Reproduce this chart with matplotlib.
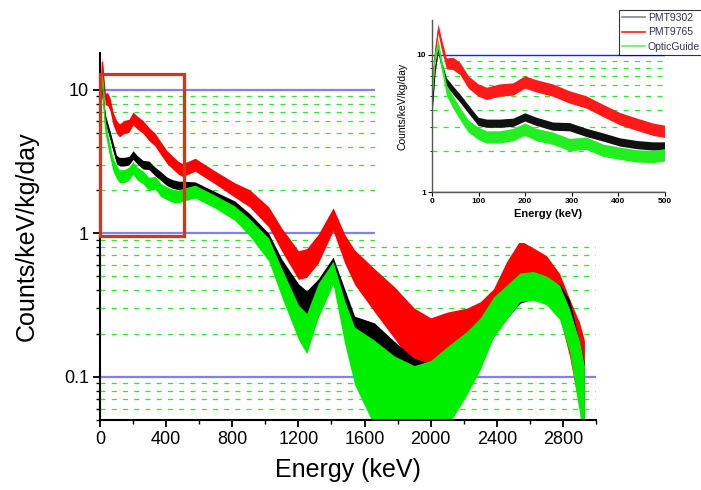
'''
Imports:
'''
import numpy as np
import matplotlib
matplotlib.use('Agg')
import matplotlib.pyplot as plt
from matplotlib.patches import Rectangle
from matplotlib.ticker import LogLocator, MultipleLocator, NullFormatter, FixedLocator

plt.rcParams['font.family'] = ['Liberation Sans', 'DejaVu Sans']

'''
Data (read from the picture):
'''
energy = [0, 7, 14, 21, 32, 46, 61, 79, 100, 118, 146, 175, 200, 225, 260,
          296, 332, 368, 404, 440, 475, 500, 575, 695, 815, 905, 1020, 1100,
          1200, 1250, 1320, 1410, 1480, 1540, 1660, 1780, 1900, 2000, 2100,
          2220, 2300, 2380, 2460, 2540, 2620, 2700, 2780, 2840, 2900, 2930]

pmt9765 = [5.5, 10.2, 15.5, 12.0, 8.6, 8.6, 7.9, 6.3, 5.5, 5.2,
           5.5, 5.6, 6.3, 5.9, 5.5, 4.9, 4.5, 3.9, 3.4, 3.1,
           2.85, 2.75, 3.0, 2.45, 2.0, 1.75, 1.3, 0.9, 0.6, 0.62,
           0.78, 1.25, 0.78, 0.58, 0.4, 0.28, 0.19, 0.155, 0.17, 0.19,
           0.22, 0.29, 0.45, 0.66, 0.6, 0.53, 0.37, 0.22, 0.12, 0.08]

pmt9302 = [3.6, 7.7, 11.0, 8.5, 6.3, 5.5, 4.8, 4.0, 3.25, 3.15,
           3.15, 3.2, 3.5, 3.25, 3.0, 2.97, 2.7, 2.5, 2.3, 2.2,
           2.15, 2.15, 2.1, 1.8, 1.53, 1.22, 0.87, 0.56, 0.37, 0.33,
           0.4, 0.58, 0.34, 0.21, 0.18, 0.125, 0.095, 0.082, 0.09, 0.13,
           0.17, 0.25, 0.32, 0.4, 0.42, 0.4, 0.35, 0.26, 0.11, 0.07]

optic_guide = [5.0, 9.6, 12.0, 8.6, 5.5, 4.5, 3.7, 3.0, 2.66, 2.5,
               2.5, 2.6, 2.85, 2.6, 2.45, 2.2, 2.25, 2.0, 1.9, 1.82,
               1.8, 1.85, 1.95, 1.66, 1.38, 1.1, 0.77, 0.45, 0.24, 0.2,
               0.34, 0.53, 0.24, 0.14, 0.09, 0.07, 0.06, 0.065, 0.085, 0.125,
               0.17, 0.26, 0.33, 0.42, 0.43, 0.4, 0.33, 0.21, 0.1, 0.06]

# half width of the noise band, in decades
spread_9765 = [0.03, 0.035, 0.035, 0.04, 0.04, 0.045, 0.045, 0.045, 0.045, 0.045,
               0.045, 0.045, 0.045, 0.045, 0.045, 0.045, 0.045, 0.045, 0.045, 0.045,
               0.045, 0.045, 0.045, 0.045, 0.05, 0.06, 0.07, 0.08, 0.1, 0.1,
               0.1, 0.08, 0.1, 0.12, 0.15, 0.18, 0.2, 0.22, 0.22, 0.2,
               0.18, 0.15, 0.15, 0.13, 0.12, 0.12, 0.15, 0.2, 0.3, 0.35]
spread_9302 = [0.02, 0.025, 0.025, 0.03, 0.03, 0.03, 0.03, 0.03, 0.03, 0.03,
               0.03, 0.03, 0.03, 0.03, 0.03, 0.03, 0.03, 0.03, 0.03, 0.03,
               0.03, 0.03, 0.035, 0.035, 0.04, 0.05, 0.06, 0.07, 0.08, 0.08,
               0.08, 0.07, 0.08, 0.1, 0.12, 0.15, 0.15, 0.18, 0.18, 0.15,
               0.13, 0.12, 0.1, 0.09, 0.08, 0.08, 0.1, 0.12, 0.2, 0.25]
spread_optic = [0.03, 0.035, 0.035, 0.04, 0.04, 0.045, 0.045, 0.045, 0.045, 0.045,
                0.045, 0.045, 0.045, 0.045, 0.045, 0.045, 0.045, 0.045, 0.045, 0.045,
                0.045, 0.045, 0.045, 0.045, 0.05, 0.06, 0.08, 0.1, 0.12, 0.14,
                0.12, 0.08, 0.15, 0.2, 0.3, 0.3, 0.3, 0.3, 0.28, 0.22,
                0.18, 0.14, 0.12, 0.1, 0.1, 0.1, 0.12, 0.15, 0.25, 0.3]

labels = ['PMT9302', 'PMT9765', 'OpticGuide']
main_xticks = [0, 400, 800, 1200, 1600, 2000, 2400, 2800]
inset_xticks = [0, 100, 200, 300, 400, 500]

'''
Code:
'''
def draw_spectrum(ax, x, y, s, color, lw=0.8):
    x = np.array(x)
    y = np.array(y)
    s = np.array(s)
    ax.fill_between(x, y * 10 ** -s, y * 10 ** s, color=color, lw=0, zorder=2)
    line, = ax.plot(x, y, color=color, lw=lw, zorder=2)
    return line


def decorate(ax, blue, blue_lw):
    ax.set_yscale('log')
    ax.yaxis.set_major_locator(LogLocator(base=10))
    ax.yaxis.set_minor_locator(LogLocator(base=10, subs=np.arange(2, 10)))
    ax.yaxis.set_minor_formatter(NullFormatter())
    lo, hi = ax.get_ylim()
    for v in ax.yaxis.get_minorticklocs():
        if lo < v < hi:
            ax.axhline(v, color='#2ee82e', lw=0.9, linestyle=(0, (4, 5)), zorder=1)
    for v in ax.yaxis.get_majorticklocs():
        if lo <= v < hi:
            ax.axhline(v, color=blue, lw=blue_lw, zorder=1)
    for side in ['top', 'right']:
        ax.spines[side].set_visible(False)


fig = plt.figure(figsize=(7.01, 4.90), dpi=100)

# main plot
ax = fig.add_axes([100 / 701, 1 - 420 / 490, 496 / 701, 367 / 490])
draw_spectrum(ax, energy, pmt9765, spread_9765, '#ff0000')
draw_spectrum(ax, energy, pmt9302, spread_9302, '#000000')
draw_spectrum(ax, energy, optic_guide, spread_optic, '#00ee00')
ax.set_xlim(0, 3000)
ax.set_ylim(0.05, 18)
decorate(ax, '#7f7fff', 1.6)
ax.xaxis.set_major_locator(FixedLocator(main_xticks))
ax.xaxis.set_minor_locator(MultipleLocator(200))
ax.set_yticks([0.1, 1, 10])
ax.set_yticklabels(['0.1', '1', '10'])
ax.tick_params(which='major', direction='out', length=5, width=1.3,
               labelsize=13, pad=3)
ax.tick_params(which='minor', direction='out', length=3, width=1.0)
for side in ['left', 'bottom']:
    ax.spines[side].set_linewidth(1.5)
ax.set_xlabel('Energy (keV)', fontsize=18, labelpad=7)
ax.set_ylabel('Counts/keV/kg/day', fontsize=18, labelpad=18)

ax.add_patch(Rectangle((0, 0.95), 510, 12.8 - 0.95, fill=False,
                       edgecolor='#cc3a1a', lw=2.3, clip_on=False, zorder=5))

# white backing behind the inset (covers the main grid there)
fig.add_artist(Rectangle((375 / 701, 1 - 243 / 490), 1, 1,
                         transform=fig.transFigure, facecolor='white',
                         edgecolor='none', zorder=1))

# inset
axi = fig.add_axes([432 / 701, 1 - 192 / 490, 233 / 701, 172 / 490])
axi.set_zorder(3)
h1 = draw_spectrum(axi, energy, pmt9302, spread_9302, '#111111', lw=0.7)
h2 = draw_spectrum(axi, energy, pmt9765, spread_9765, '#ff1a1a', lw=0.7)
h3 = draw_spectrum(axi, energy, optic_guide, spread_optic, '#22ee22', lw=0.7)
axi.set_xlim(0, 500)
axi.set_ylim(1, 18)
decorate(axi, '#1a1aff', 1.0)
axi.set_yticks([1, 10])
axi.set_yticklabels(['1', '10'])
axi.xaxis.set_major_locator(FixedLocator(inset_xticks))
axi.tick_params(which='major', direction='out', length=3, width=0.8,
                labelsize=6, pad=1.5)
axi.tick_params(which='minor', direction='out', length=1.5, width=0.6)
for t in axi.get_xticklabels() + axi.get_yticklabels():
    t.set_fontweight('bold')
for side in ['left', 'bottom']:
    axi.spines[side].set_color('#555555')
    axi.spines[side].set_linewidth(1.0)
axi.set_xlabel('Energy (keV)', fontsize=8, fontweight='bold', labelpad=3)
axi.set_ylabel('Counts/keV/kg/day', fontsize=7.5, labelpad=6)

leg = axi.legend([h1, h2, h3], labels, loc='upper left',
                 bbox_to_anchor=(619 / 701, 1 - 10 / 490),
                 bbox_transform=fig.transFigure, fontsize=7.5,
                 frameon=True, fancybox=False, edgecolor='black',
                 handlelength=2.2, handletextpad=0.3, labelspacing=0.45,
                 borderpad=0.25, borderaxespad=0)
leg.get_frame().set_linewidth(0.8)
for line, c in zip(leg.get_lines(), ['#888888', '#ff1a1a', '#66ee66']):
    line.set_color(c)
    line.set_linewidth(1.2)
for t in leg.get_texts():
    t.set_color('#333355')

fig.savefig('out.png', dpi=100)
